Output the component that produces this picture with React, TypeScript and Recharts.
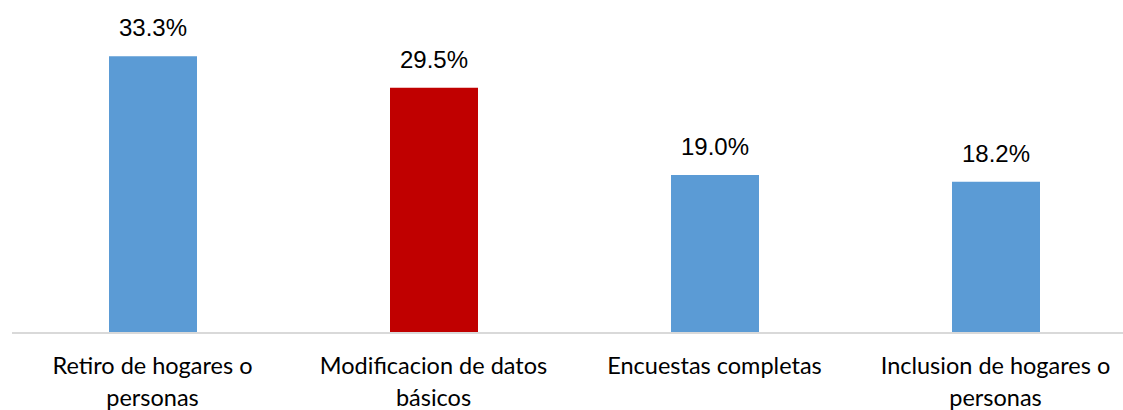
import React from 'react';
import { BarChart, Bar, XAxis, YAxis, Cell, LabelList } from 'recharts';

const categories = ['Retiro de hogares o\npersonas', 'Modificacion de datos\nbásicos', 'Encuestas completas', 'Inclusion de hogares o\npersonas'];
const values = [33.3, 29.5, 19.0, 18.2];
const colors = ['#5B9BD5', '#C00000', '#5B9BD5', '#5B9BD5'];

const data = categories.map((name, i) => ({ name, value: values[i] }));

const CategoryTick = (props: any) => {
  const { x, y, payload } = props;
  const lines: string[] = String(payload.value).split('\n');
  return (
    <text x={x} y={y} textAnchor="middle" fill="#000" fontSize={23.5} fontFamily="Lato, sans-serif">
      {lines.map((l, i) => (
        <tspan key={i} x={x} dy={i === 0 ? 33 : 32}>{l}</tspan>
      ))}
    </text>
  );
};

const App: React.FC = () => {
  return (
    <div style={{ position: 'absolute', left: 0, top: 0, width: 1123, height: 410, overflow: 'hidden', background: '#fff' }}>
      <BarChart
        width={1140}
        height={410}
        data={data}
        margin={{ top: 42, right: 4, left: 12, bottom: 0 }}
      >
        <XAxis
          dataKey="name"
          height={77}
          axisLine={{ stroke: '#D9D9D9', strokeWidth: 2 }}
          tickLine={false}
          tick={<CategoryTick />}
          interval={0}
        />
        <YAxis hide domain={[0, 35]} />
        <Bar dataKey="value" barSize={88} isAnimationActive={false}>
          {data.map((d, i) => (
            <Cell key={d.name} fill={colors[i]} />
          ))}
          <LabelList
            dataKey="value"
            position="top"
            offset={20}
            formatter={(v: any) => `${Number(v).toFixed(1)}%`}
            style={{ fontSize: 24, fontFamily: 'Liberation Sans, Arial, sans-serif', fill: '#000' }}
          />
        </Bar>
      </BarChart>
    </div>
  );
};

export default App;
